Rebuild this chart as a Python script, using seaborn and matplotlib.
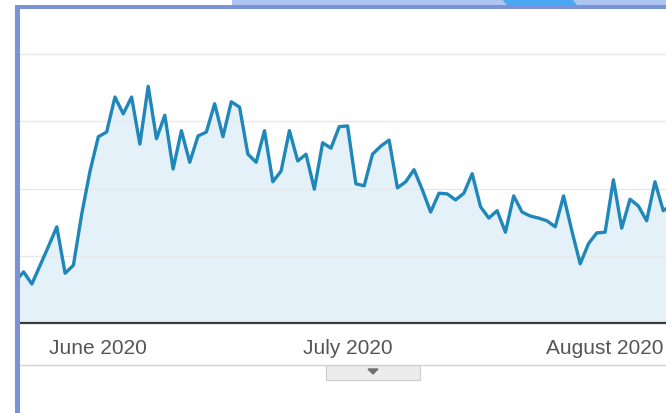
import numpy as np
import pandas as pd
import matplotlib
matplotlib.use("Agg")
import matplotlib.pyplot as plt
import matplotlib.dates as mdates
from matplotlib.patches import Rectangle, Polygon
from matplotlib.lines import Line2D
import seaborn as sns

# ---- data (daily values) ----
dates = pd.date_range("2020-05-22", "2020-08-09", freq="D")
visits = [62, 76, 58, 86, 114, 143, 74, 86, 162, 226,
          277, 284, 336, 311, 336, 266, 352, 274, 309, 229,
          286, 239, 278, 284, 326, 277, 329, 321, 251, 239,
          286, 210, 226, 286, 241, 251, 199, 268, 260, 292,
          293, 207, 204, 251, 263, 272, 201, 210, 228, 198,
          165, 193, 192, 183, 193, 222, 173, 156, 167, 135,
          189, 165, 159, 156, 152, 143, 189, 137, 88, 118,
          134, 135, 213, 141, 184, 174, 152, 210, 167, 176]
tick_dates = ["2020-06-01", "2020-07-01", "2020-08-01"]
tick_labels = ["June 2020", "July 2020", "August 2020"]
grid_values = [100, 200, 300, 400]

W, H = 666, 414

def fx(x):
    return x / W

def fy(y):
    return 1 - y / H

sns.set_theme(style="white")
plt.rcParams['font.family'] = ['Liberation Sans', 'DejaVu Sans']

fig = plt.figure(figsize=(W / 100, H / 100), dpi=100)
fig.patch.set_facecolor("white")
ax = fig.add_axes([fx(20), fy(324), fx(646), (324 - 10) / H])

df = pd.DataFrame({"date": dates, "visits": visits})
ax.fill_between(df["date"], df["visits"], 0, color="#e5f1f8", lw=0)
sns.lineplot(data=df, x="date", y="visits", ax=ax, color="#1f87b9", lw=2.4)

ax.set_ylim(0, 314 / 67.25 * 100)
ax.set_yticks(grid_values)
ax.set_yticklabels([])
ax.tick_params(axis="y", length=0)
ax.grid(axis="y", color="#e6e9eb", lw=1)
ax.grid(axis="x", visible=False)
ax.set_axisbelow("line")

june1 = pd.Timestamp("2020-06-01")
ax.set_xlim(mdates.date2num(june1 - pd.Timedelta(days=9.43)),
            mdates.date2num(june1 + pd.Timedelta(days=68.33)))
ax.set_xticks(pd.to_datetime(tick_dates))
ax.set_xticklabels(tick_labels, fontsize=15, color="#555555")
ax.tick_params(axis="x", length=0, pad=11)
ax.set_xlabel("")
ax.set_ylabel("")

for s in ["left", "top", "right"]:
    ax.spines[s].set_visible(False)
ax.spines["bottom"].set_color("#3a3a3a")
ax.spines["bottom"].set_linewidth(1.6)

# ---- surrounding screenshot decorations ----
fig.add_artist(Line2D([fx(20), 1], [fy(366), fy(366)], color="#d2d2d2", lw=1))
fig.add_artist(Rectangle((fx(326), fy(381)), fx(94), 15 / H,
                         facecolor="#ececec", edgecolor="#cdcdcd", lw=0.8))
fig.add_artist(Polygon([(fx(368), fy(370)), (fx(378), fy(370)), (fx(373), fy(375))],
                       closed=True, color="#707070"))

border = "#7b93d6"
fig.add_artist(Rectangle((fx(15), 0), fx(5), fy(6), color=border, lw=0))
fig.add_artist(Rectangle((fx(15), fy(10)), fx(651), 4 / H, color=border, lw=0))
fig.add_artist(Rectangle((fx(232), fy(6)), fx(434), 6 / H, color="#abc5ef", lw=0))
fig.add_artist(Polygon([(fx(502), fy(0)), (fx(572), fy(0)), (fx(577), fy(6)), (fx(507), fy(6))],
                       closed=True, color="#4aa7f2", lw=0))

fig.savefig("out.png", dpi=100)
